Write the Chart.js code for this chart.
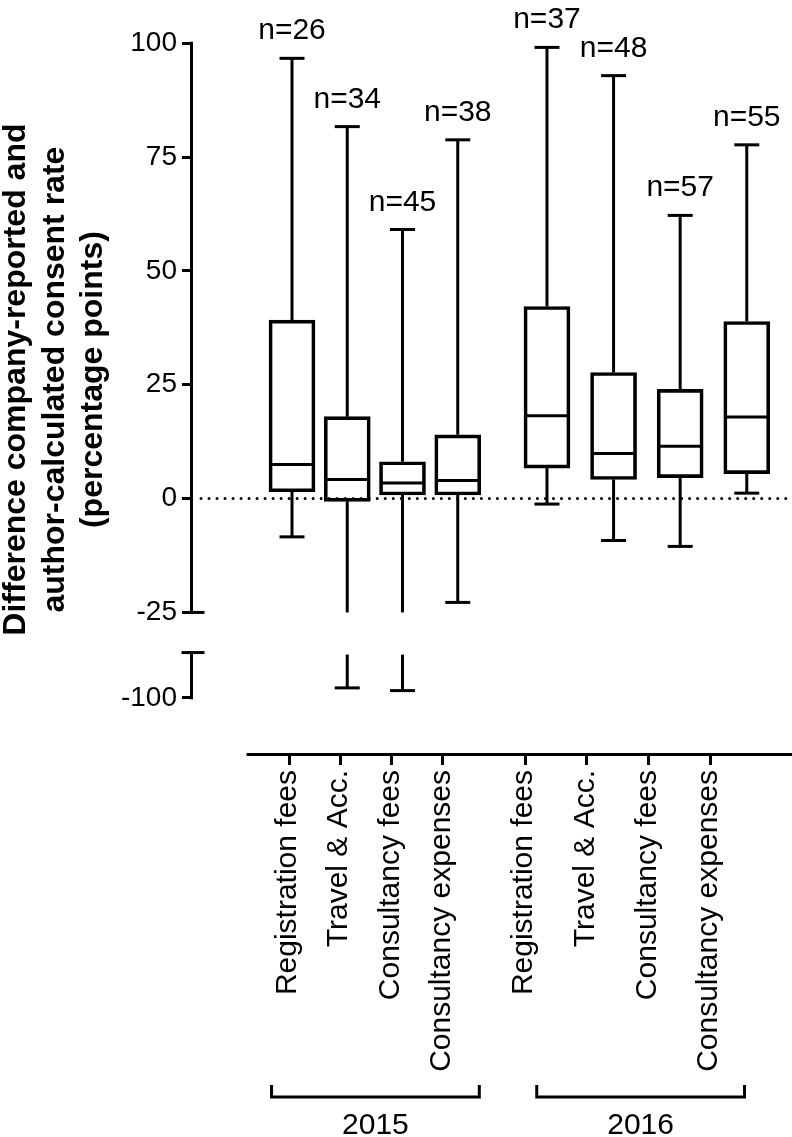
<!DOCTYPE html>
<html>
<head>
<meta charset="utf-8">
<script src="https://cdn.jsdelivr.net/npm/chart.js@4.4.1/dist/chart.umd.min.js"></script>
<style>
  html, body { margin: 0; padding: 0; background: #fff; }
  #wrap { width: 792px; height: 1137px; position: relative; }
</style>
</head>
<body>
<div id="wrap"><canvas id="grafico"></canvas></div>
<script>
// ---- data ----
const years = ['2015', '2016'];
const categories = ['Registration fees', 'Travel & Acc.', 'Consultancy fees', 'Consultancy expenses'];

const min2015 = [-8.4, -97.8, -98.4, -22.8];
const q1_2015 = [1.5, -0.6, 0.8, 0.8];
const med2015 = [7.5, 4.2, 3.4, 4.0];
const q3_2015 = [39.2, 18.0, 8.1, 14.0];
const max2015 = [96.7, 81.7, 59.1, 78.8];
const n2015 = [26, 34, 45, 38];

const min2016 = [-1.2, -9.2, -10.5, 1.2];
const q1_2016 = [6.7, 4.2, 4.6, 5.5];
const med2016 = [18.2, 9.9, 11.5, 17.9];
const q3_2016 = [42.2, 27.7, 24.0, 38.9];
const max2016 = [99.1, 92.9, 62.2, 77.7];
const n2016 = [37, 48, 57, 55];

const yTicksUpper = [-25, 0, 25, 50, 75, 100];
const yTicksLower = [-100];
const breakUpper = -25;   // upper segment ends here
const breakLower = -90;   // lower segment starts here

const yTitle = ['Difference company-reported and', 'author-calculated consent rate', '(percentage points)'];

// ---- layout ----
const FONT = "'Liberation Sans', Arial, Helvetica, sans-serif";
const groupStart = [0, 4.615];
const groupStep = [1, 1.2054];
const bracketX = [[-0.37, 3.39], [4.43, 8.19]];

const stats = {
    '2015': { min: min2015, q1: q1_2015, med: med2015, q3: q3_2015, max: max2015, n: n2015 },
    '2016': { min: min2016, q1: q1_2016, med: med2016, q3: q3_2016, max: max2016, n: n2016 }
};

const boxes = [];
years.forEach((yr, g) => {
    const s = stats[yr];
    categories.forEach((cat, i) => {
        boxes.push({
            label: cat,
            x: groupStart[g] + i * groupStep[g],
            min: s.min[i], q1: s.q1[i], med: s.med[i], q3: s.q3[i], max: s.max[i], n: s.n[i]
        });
    });
});

function line(ctx, x1, y1, x2, y2) {
    ctx.beginPath();
    ctx.moveTo(x1, y1);
    ctx.lineTo(x2, y2);
    ctx.stroke();
}

const boxPlot = {
    id: 'boxPlot',
    beforeDatasetsDraw(chart) {
        const { ctx, chartArea } = chart;
        const y0 = chart.scales.yTop.getPixelForValue(0);
        ctx.save();
        ctx.strokeStyle = '#000';
        ctx.lineWidth = 3;
        ctx.lineCap = 'round';
        ctx.setLineDash([0.01, 8]);
        line(ctx, chartArea.left + 8, y0, chartArea.right, y0);
        ctx.restore();
    },
    afterDatasetsDraw(chart) {
        const { ctx } = chart;
        const yT = chart.scales.yTop, yB = chart.scales.yBot;
        const meta = chart.getDatasetMeta(0);
        ctx.save();
        ctx.strokeStyle = '#000';
        ctx.fillStyle = '#000';
        ctx.lineWidth = 3;
        ctx.font = '30px ' + FONT;
        ctx.textAlign = 'center';
        ctx.textBaseline = 'alphabetic';
        const cap = 12.5;
        boxes.forEach((b, i) => {
            const bar = meta.data[i];
            const cx = bar.x, half = bar.width / 2;
            line(ctx, cx - half + 1.5, yT.getPixelForValue(b.med), cx + half - 1.5, yT.getPixelForValue(b.med));
            const pMax = yT.getPixelForValue(b.max);
            line(ctx, cx, yT.getPixelForValue(b.q3), cx, pMax);
            line(ctx, cx - cap, pMax, cx + cap, pMax);
            if (b.min >= breakUpper) {
                const pMin = yT.getPixelForValue(b.min);
                line(ctx, cx, yT.getPixelForValue(b.q1), cx, pMin);
                line(ctx, cx - cap, pMin, cx + cap, pMin);
            } else {
                line(ctx, cx, yT.getPixelForValue(b.q1), cx, yT.getPixelForValue(breakUpper));
                const pMin = yB.getPixelForValue(b.min);
                line(ctx, cx, yB.getPixelForValue(breakLower) + 2, cx, pMin);
                line(ctx, cx - cap, pMin, cx + cap, pMin);
            }
            ctx.fillText('n=' + b.n, cx, pMax - 19);
        });
        ctx.restore();
    },
    afterDraw(chart) {
        const { ctx, chartArea } = chart;
        const yT = chart.scales.yTop, yB = chart.scales.yBot;
        const xS = chart.scales.x, xL = chart.scales.xl;
        const ax = chartArea.left - 1.5;
        ctx.save();
        ctx.strokeStyle = '#000';
        ctx.fillStyle = '#000';
        ctx.lineWidth = 3;
        // broken y axis
        line(ctx, ax, yT.getPixelForValue(100) - 1.5, ax, yT.getPixelForValue(breakUpper) + 1.5);
        line(ctx, ax - 1.5, yT.getPixelForValue(breakUpper), ax + 13, yT.getPixelForValue(breakUpper));
        line(ctx, ax, yB.getPixelForValue(breakLower), ax, yB.getPixelForValue(-100) + 1.5);
        line(ctx, ax - 10, yB.getPixelForValue(breakLower), ax + 13, yB.getPixelForValue(breakLower));
        // x axis line
        const yx = chartArea.bottom + 1.5;
        line(ctx, xL.getPixelForValue(-0.83), yx, chartArea.right, yx);
        // rotated category labels, anchored on the xl ticks
        ctx.font = '30px ' + FONT;
        ctx.textAlign = 'right';
        ctx.textBaseline = 'middle';
        xL.ticks.forEach((t, i) => {
            ctx.save();
            ctx.translate(xL.getPixelForTick(i) - 1, chartArea.bottom + 17);
            ctx.rotate(-Math.PI / 2);
            ctx.fillText(boxes[i].label, 0, 0);
            ctx.restore();
        });
        // year brackets
        ctx.textAlign = 'center';
        ctx.textBaseline = 'alphabetic';
        years.forEach((yr, g) => {
            const x1 = xS.getPixelForValue(bracketX[g][0]);
            const x2 = xS.getPixelForValue(bracketX[g][1]);
            const yb = 1097;
            ctx.beginPath();
            ctx.moveTo(x1, 1085);
            ctx.lineTo(x1, yb);
            ctx.lineTo(x2, yb);
            ctx.lineTo(x2, 1085);
            ctx.stroke();
            ctx.fillText(yr, (x1 + x2) / 2, 1134);
        });
        // y title
        const midY = (yT.getPixelForValue(100) + yB.getPixelForValue(-100)) / 2 + 9;
        ctx.font = 'bold 32px ' + FONT;
        ctx.translate(25, midY);
        ctx.rotate(-Math.PI / 2);
        yTitle.forEach((t, k) => ctx.fillText(t, 0, k * 38.5));
        ctx.restore();
    }
};

Chart.defaults.font.family = FONT;
Chart.defaults.color = '#000';

const yGrid = { drawOnChartArea: false, drawTicks: true, tickLength: 11, lineWidth: 3, color: '#000' };

const ctx = document.getElementById('grafico').getContext('2d');
new Chart(ctx, {
    type: 'bar',
    data: {
        datasets: [{
            data: boxes.map(b => ({ x: b.x, y: [b.q1, b.q3] })),
            xAxisID: 'x',
            yAxisID: 'yTop',
            backgroundColor: 'rgba(255,255,255,0)',
            borderColor: '#000',
            borderWidth: 3,
            borderSkipped: false,
            barThickness: 46
        }]
    },
    options: {
        animation: false,
        responsive: true,
        maintainAspectRatio: false,
        layout: { padding: { top: 43.3, left: 0, right: 0, bottom: 0 } },
        plugins: { legend: { display: false }, tooltip: { enabled: false } },
        scales: {
            x: {
                type: 'linear', display: false, offset: false, grid: { offset: false },
                min: -1.792, max: 9.05, bounds: 'data'
            },
            xl: {
                type: 'linear', position: 'bottom', offset: false, min: -1.877, max: 9.834, bounds: 'data',
                afterBuildTicks: s => { s.ticks = boxes.map(b => ({ value: b.x })); },
                afterFit: s => { s.height = 1137 - 753; },
                border: { display: false },
                grid: { offset: false, drawOnChartArea: false, drawTicks: true, tickLength: 12, lineWidth: 3, color: '#000' },
                ticks: { display: false, autoSkip: false }
            },
            yBot: {
                type: 'linear', position: 'left', stack: 'y', stackWeight: 120.5,
                min: -112.18, max: -85.58, bounds: 'data',
                afterBuildTicks: s => { s.ticks = yTicksLower.map(v => ({ value: v })); },
                afterFit: s => { s.width = 193; },
                border: { display: false },
                grid: yGrid,
                ticks: { font: { size: 28 }, color: '#000', padding: 5 }
            },
            yTop: {
                type: 'linear', position: 'left', stack: 'y', stackWeight: 589.5,
                min: -29.42, max: 100, bounds: 'data',
                afterBuildTicks: s => { s.ticks = yTicksUpper.map(v => ({ value: v })); },
                afterFit: s => { s.width = 193; },
                border: { display: false },
                grid: yGrid,
                ticks: { font: { size: 28 }, color: '#000', padding: 5 }
            }
        }
    },
    plugins: [boxPlot]
});
</script>
</body>
</html>
